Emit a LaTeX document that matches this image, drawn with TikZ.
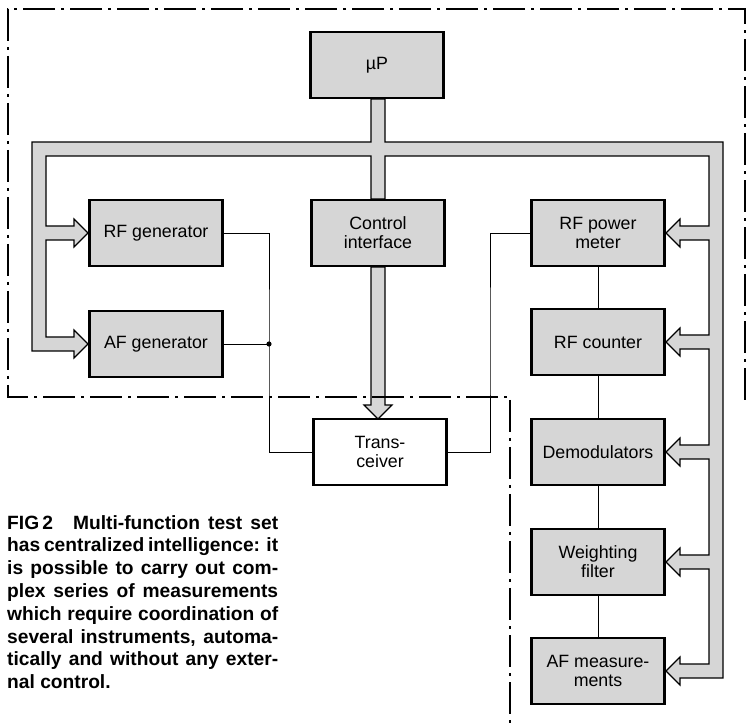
\documentclass[tikz,border=0pt]{standalone}
\usepackage{fontspec}
\setmainfont{Liberation Sans}
\begin{document}
\begin{tikzpicture}[x=1pt,y=-1pt,
  blk/.style={draw=black, line width=2.6pt, fill=boxfill, minimum width=133pt, minimum height=66pt,
    inner sep=0pt, align=center, font=\fontsize{17.8}{19}\selectfont},
  wblk/.style={blk, fill=white},
  bus/.style={draw=black, line width=1.2pt, fill=busfill, line join=miter},
  wire/.style={draw=black, line width=0.9pt},
  dashdot/.style={draw=black, line width=1.6pt, dash pattern=on 32pt off 6pt on 3pt off 6pt}]
\definecolor{boxfill}{gray}{0.84}
\definecolor{busfill}{gray}{0.84}
\useasboundingbox (0,0) rectangle (748,727);

% bus network
\draw[bus] (371,99) -- (385,99) -- (385,142) -- (723,142) -- (723,678) -- (680,678) -- (680,685) -- (666,671) -- (680,657) -- (680,664) -- (709,664)
 -- (709,569) -- (680,569) -- (680,576) -- (666,562) -- (680,548) -- (680,555) -- (709,555)
 -- (709,459) -- (680,459) -- (680,466) -- (666,452) -- (680,438) -- (680,445) -- (709,445)
 -- (709,349) -- (680,349) -- (680,356) -- (666,342) -- (680,328) -- (680,335) -- (709,335)
 -- (709,240) -- (680,240) -- (680,247) -- (666,233) -- (680,219) -- (680,226) -- (709,226)
 -- (709,156) -- (385,156) -- (385,199) -- (371,199) -- (371,156) -- (46,156)
 -- (46,226) -- (74,226) -- (74,219) -- (88,233) -- (74,247) -- (74,240) -- (46,240)
 -- (46,337) -- (74,337) -- (74,330) -- (88,344) -- (74,358) -- (74,351) -- (32,351) -- (32,142) -- (371,142) -- cycle;

% control interface -> transceiver arrow
\draw[bus] (371,267) -- (385,267) -- (385,405) -- (392,405) -- (378,419) -- (364,405) -- (371,405) -- cycle;

% blocks
\node[blk] (mup) at (377,65) {µP};
\node[blk] (ci) at (378,233) {Control\\interface};
\node[wblk] (tr) at (380,452) {Trans-\\ceiver};
\node[blk] (rfg) at (156,233) {RF generator};
\node[blk] (afg) at (156,344) {AF generator};
\node[blk] (rfpm) at (598,233) {RF power\\meter};
\node[blk] (rfc) at (598,342) {RF counter};
\node[blk] (dem) at (598,452) {Demodulators};
\node[blk] (wf) at (598,562) {Weighting\\filter};
\node[blk] (afm) at (598,671) {AF measure-\\ments};

% wires
\coordinate (j1) at (269,344);
\coordinate (j2) at (490,340);
\draw[wire] (rfg.east) -| (j1) |- (tr.west);
\draw[wire] (afg.east) -- (j1);
\fill (j1) circle (2.6pt);
\draw[wire] (tr.east) -| (j2) |- (rfpm.west);
\draw[wire] (rfpm.south) -- (rfc.north);
\draw[wire] (rfc.south) -- (dem.north);
\draw[wire] (dem.south) -- (wf.north);
\draw[wire] (wf.south) -- (afm.north);

% dash-dot enclosure
\draw[dashdot] (745,400) -- (745,9) -- (8,9) -- (8,397) -- (510,397) -- (510,727);

% caption
\node[anchor=north west, inner sep=0pt, align=left, font=\fontsize{19.2}{22.8}\selectfont\bfseries] (cap) at (7,515)
{\makebox[271pt][s]{FIG\,2\hspace{20pt}Multi-function test set}\\
\makebox[271pt][s]{has centralized intelligence: it}\\
\makebox[271pt][s]{is possible to carry out com-}\\
\makebox[271pt][s]{plex series of measurements}\\
\makebox[271pt][s]{which require coordination of}\\
\makebox[271pt][s]{several instruments, automa-}\\
\makebox[271pt][s]{tically and without any exter-}\\
nal control.};
\end{tikzpicture}
\end{document}
